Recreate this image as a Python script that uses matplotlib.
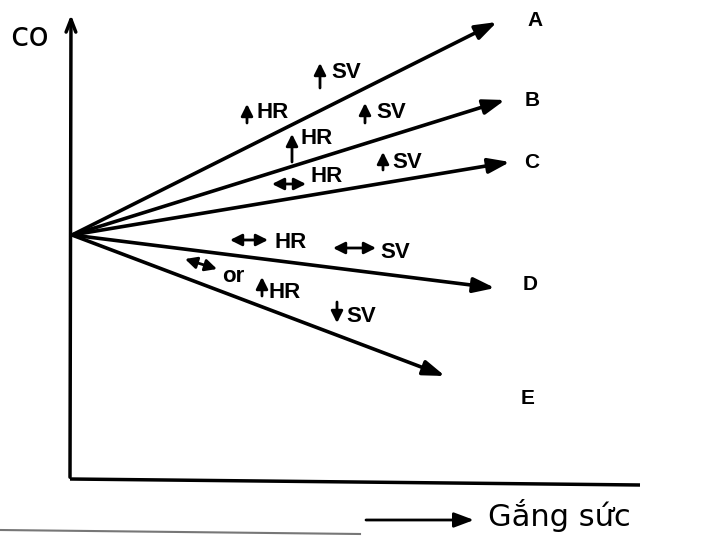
import matplotlib
matplotlib.use("Agg")
import matplotlib.pyplot as plt

# lines fan out from one starting point on the CO axis (pixel-like units, y downwards)
line_names = ["A", "B", "C", "D", "E"]
start = (72, 235)
end_x = [497, 505, 510, 495, 445]
end_y = [22, 100, 162, 288, 376]
label_x = [535, 532, 532, 530, 528]
label_y = [20, 100, 163, 285, 398]

# annotation texts: (arrow kind, text)
notes = ["up", "up", "up", "up", "both", "up", "both", "both", "down"]
note_text = ["SV", "HR", "SV", "HR", "HR", "SV", "HR", "SV", "SV"]
note_arrow = [((320, 88), (320, 63)), ((247, 123), (247, 104)),
              ((365, 123), (365, 103)), ((292, 162), (292, 134)),
              ((272, 184), (306, 184)), ((383, 170), (383, 152)),
              ((230, 240), (268, 240)), ((333, 248), (376, 248)),
              ((337, 302), (337, 323))]
note_pos = [(331, 73), (257, 112), (376, 112), (301, 139), (311, 177),
            (392, 162), (274, 242), (380, 252), (346, 317)]

fig = plt.figure(figsize=(7.15, 5.41), dpi=100)
ax = fig.add_axes([0, 0, 1, 1])
ax.set_xlim(0, 715)
ax.set_ylim(541, 0)
ax.axis("off")

font = "Liberation Sans"
small = dict(lw=2.0, color="black", shrinkA=0, shrinkB=0, mutation_scale=10)

# axes
ax.plot([70, 640], [479, 485], color="black", lw=2.5, solid_capstyle="butt")
ax.annotate("", xy=(71, 12), xytext=(70, 480),
            arrowprops=dict(arrowstyle="->,head_length=0.9,head_width=0.35",
                            lw=2.5, color="black"))
ax.text(10, 36, "co", fontsize=24, va="center", ha="left", family="DejaVu Sans")

# main arrows
for n, ex, ey, lx, ly in zip(line_names, end_x, end_y, label_x, label_y):
    ax.annotate("", xy=(ex, ey), xytext=start,
                arrowprops=dict(arrowstyle="-|>,head_length=1.3,head_width=0.45",
                                lw=2.6, color="black", shrinkA=0, shrinkB=0,
                                mutation_scale=10))
    ax.text(lx, ly, n, fontsize=15, ha="center", va="center", family=font,
            weight="bold")

# small arrows + HR / SV notes
for kind, txt, (p0, p1), (tx, ty) in zip(notes, note_text, note_arrow, note_pos):
    style = "<|-|>" if kind == "both" else "-|>"
    ax.annotate("", xy=p1, xytext=p0,
                arrowprops=dict(arrowstyle=style + ",head_length=0.7,head_width=0.35",
                                **small))
    ax.text(tx, ty, txt, fontsize=16, ha="left", va="center", family=font,
            weight="bold")

# "<-> or ^HR" under line D
ax.annotate("", xy=(217, 269), xytext=(185, 259),
            arrowprops=dict(arrowstyle="<|-|>,head_length=0.7,head_width=0.35",
                            **small))
ax.text(222, 276, "or", fontsize=16, ha="left", va="center", family=font,
        weight="bold")
ax.annotate("", xy=(262, 277), xytext=(262, 296),
            arrowprops=dict(arrowstyle="-|>,head_length=0.7,head_width=0.35",
                            **small))
ax.text(269, 292, "HR", fontsize=16, ha="left", va="center", family=font,
        weight="bold")

# x axis label
ax.annotate("", xy=(474, 520), xytext=(366, 520),
            arrowprops=dict(arrowstyle="-|>,head_length=1.2,head_width=0.45",
                            lw=2, color="black", shrinkA=0, shrinkB=0,
                            mutation_scale=10))
ax.text(488, 516, "Gắng sức", fontsize=22, ha="left", va="center",
        family="DejaVu Sans")

# scan edge line at the bottom
ax.plot([0, 360], [530, 534], color="#777777", lw=1.5)

fig.savefig("out.png", dpi=100)
